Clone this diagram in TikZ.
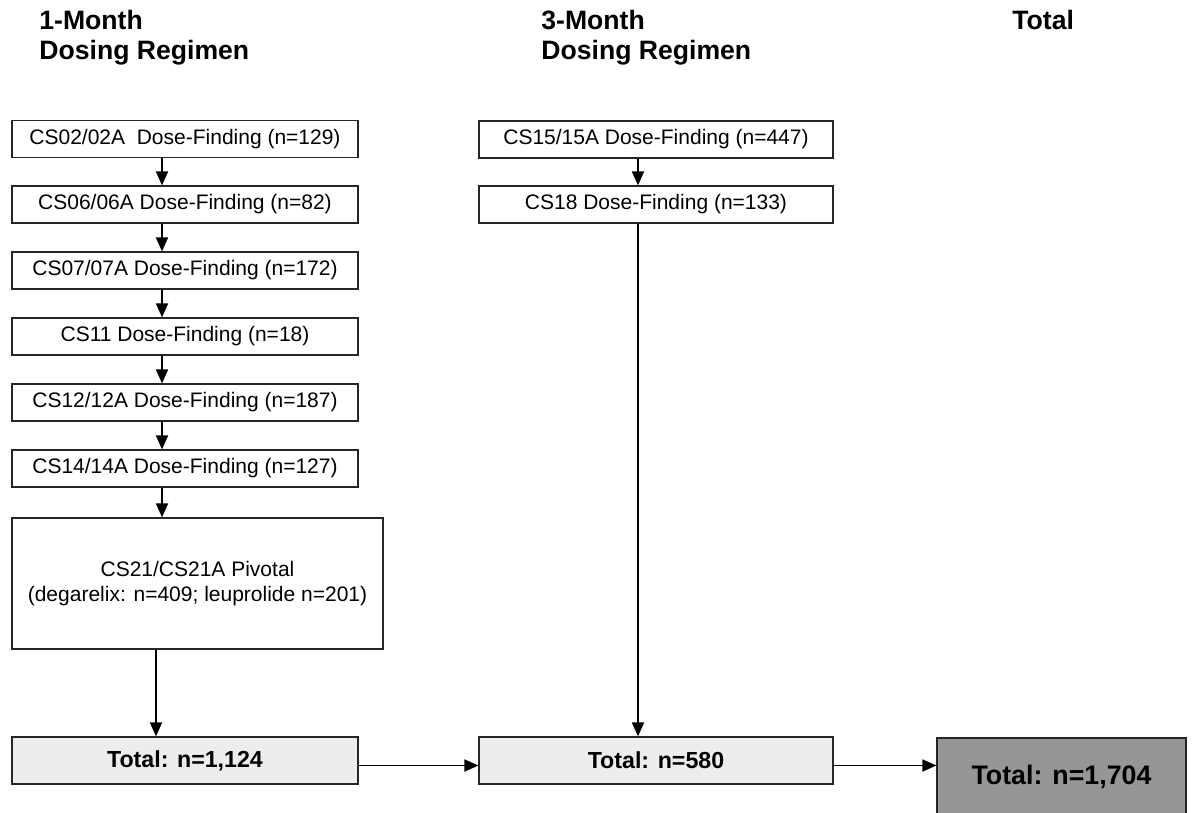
\documentclass[tikz,border=0pt]{standalone}
\usepackage{fontspec}
\setmainfont{Liberation Sans}
\usetikzlibrary{arrows.meta}
\begin{document}
\begin{tikzpicture}[
  x=0.5pt, y=-0.5pt,
  study/.style={rectangle, draw=black!85, line width=0.6pt, fill=white, inner sep=0pt, minimum height=18.5pt, font=\fontsize{10.5}{12.7}\selectfont},
  total/.style={rectangle, draw=black!85, line width=0.6pt, fill=black!7, inner sep=0pt, minimum height=23.5pt, font=\bfseries\fontsize{11.6}{13.5}\selectfont},
  grand/.style={rectangle, draw=black!85, line width=0.6pt, fill=black!41, inner sep=0pt, font=\bfseries\fontsize{13.4}{15}\selectfont},
  header/.style={anchor=north west, align=left, inner sep=0pt, font=\bfseries\fontsize{13.3}{15}\selectfont},
  arr/.style={line width=0.9pt, draw=black, -{Triangle[length=7pt,width=6pt]}}
]
  \useasboundingbox (0,0) rectangle (1196,813);

  % Encabezados de columna
  \node[header] (h1) at (39,10) {1-Month\\Dosing Regimen};
  \node[header] (h3) at (541,10) {3-Month\\Dosing Regimen};
  \node[header] (h5) at (1012,10) {Total};

  % Columna 1: régimen de un mes
  \node[study, minimum width=173pt] (a1) at (185,139) {CS02/02A\ \ Dose-Finding (n=129)};
  \node[study, minimum width=173pt] (a2) at (185,204.5) {CS06/06A Dose-Finding (n=82)};
  \node[study, minimum width=173pt] (a3) at (185,270.5) {CS07/07A Dose-Finding (n=172)};
  \node[study, minimum width=173pt] (a4) at (185,336.5) {CS11 Dose-Finding (n=18)};
  \node[study, minimum width=173pt] (a5) at (185,402.5) {CS12/12A Dose-Finding (n=187)};
  \node[study, minimum width=173pt] (a6) at (185,468.5) {CS14/14A Dose-Finding (n=127)};
  \node[study, minimum width=185.5pt, minimum height=65.5pt, align=center] (a7) at (197.5,583.5)
    {CS21/CS21A Pivotal\\(degarelix: n=409; leuprolide n=201)};
  \node[total, minimum width=173pt] (t1) at (185,760.5) {Total: n=1,124};

  % Columna 2: régimen de tres meses
  \node[study, minimum width=177pt] (b1) at (656,139.5) {CS15/15A Dose-Finding (n=447)};
  \node[study, minimum width=177pt] (b2) at (656,204.5) {CS18 Dose-Finding (n=133)};
  \node[total, minimum width=177pt] (t2) at (656,760.5) {Total: n=580};

  % Total general
  \node[grand, minimum width=124.5pt, minimum height=39pt] (t3) at (1061.5,777) {Total: n=1,704};

  % Ejes de las flechas verticales
  \coordinate (colA) at (162,0);
  \coordinate (colP) at (156,0);
  \coordinate (colB) at (638,0);

  % Flechas
  \foreach \i/\j in {a1/a2, a2/a3, a3/a4, a4/a5, a5/a6, a6/a7}
    \draw[arr] (\i.south -| colA) -- (\j.north -| colA);
  \draw[arr] (a7.south -| colP) -- (t1.north -| colP);
  \draw[arr] (b1.south -| colB) -- (b2.north -| colB);
  \draw[arr] (b2.south -| colB) -- (t2.north -| colB);
  \draw[arr] ([yshift=-2.5pt]t1.east) -- ([yshift=-2.5pt]t2.west);
  \draw[arr] ([yshift=-2.5pt]t2.east) -- ([yshift=-2.5pt]t2.east -| t3.west);

\end{tikzpicture}
\end{document}
